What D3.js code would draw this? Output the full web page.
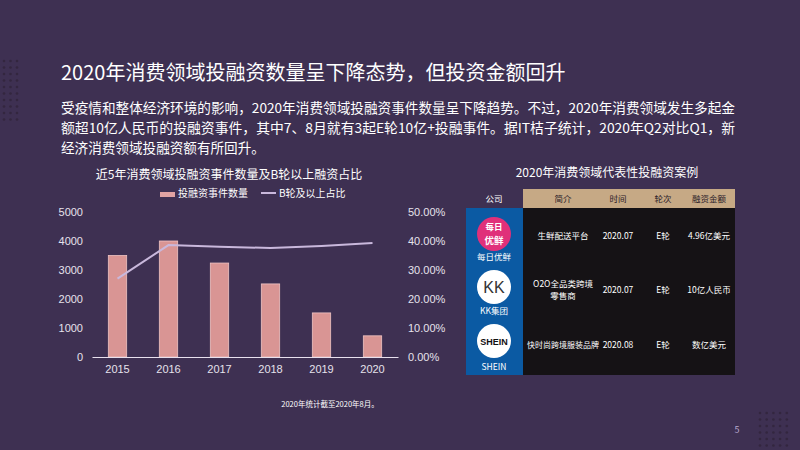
<!DOCTYPE html>
<html><head><meta charset="utf-8">
<script src="https://cdn.jsdelivr.net/npm/d3@7/dist/d3.min.js"></script>
<style>
html,body{margin:0;padding:0;background:#3e3052;}
svg{display:block;font-family:"Noto Sans CJK SC","Noto Sans",sans-serif;}
</style></head>
<body><svg id="c" width="800" height="450"></svg>
<script>
const years = ["2015","2016","2017","2018","2019","2020"];
const eventCounts = [3500, 4000, 3240, 2520, 1520, 730];
const bRoundShare = [0.27, 0.386, 0.38, 0.376, 0.383, 0.393];
const leftTicks = [0, 1000, 2000, 3000, 4000, 5000];
const rightTicks = [0, 0.1, 0.2, 0.3, 0.4, 0.5];
const tableHeader = ["简介", "时间", "轮次", "融资金额"];
const companies = ["每日优鲜", "KK集团", "SHEIN"];
const intros = [["生鲜配送平台"], ["O2O全品类跨境", "零售商"], ["快时尚跨境服装品牌"]];
const dates = ["2020.07", "2020.07", "2020.08"];
const rounds = ["E轮", "E轮", "E轮"];
const amounts = ["4.96亿美元", "10亿人民币", "数亿美元"];

const svg = d3.select("#c");
svg.append("rect").attr("width",800).attr("height",450).attr("fill","#3e3052");

// decorative dots
const dotsL = svg.append("g");
for (let r=0;r<10;r++) for (let c=0;c<3;c++)
  dotsL.append("circle").attr("cx",4+c*6.5).attr("cy",61+r*6.5).attr("r",1.3).attr("fill","#33263f");
for (let r=0;r<6;r++) for (let c=0;c<5;c++)
  dotsL.append("circle").attr("cx",760+c*6.7).attr("cy",413+r*6.5).attr("r",1.3).attr("fill","#33263f");

// title & paragraph
svg.append("text").attr("x",61).attr("y",80).attr("fill","#ffffff").attr("font-size",20)
  .text("2020年消费领域投融资数量呈下降态势，但投资金额回升");
const para = ["受疫情和整体经济环境的影响，2020年消费领域投融资事件数量呈下降趋势。不过，2020年消费领域发生多起金",
  "额超10亿人民币的投融资事件，其中7、8月就有3起E轮10亿+投融事件。据IT桔子统计，2020年Q2对比Q1，新",
  "经济消费领域投融资额有所回升。"];
para.forEach((t,i)=>svg.append("text").attr("x",61).attr("y",113+i*20).attr("fill","#ffffff")
  .attr("font-size",13.6).attr("textLength", i<2?674:null).attr("lengthAdjust","spacingAndGlyphs").text(t));

// chart
const x = d3.scaleBand().domain(years).range([92,398]).paddingInner(0.64).paddingOuter(0.32);
const yL = d3.scaleLinear().domain([0,5000]).range([357,212]);
const yR = d3.scaleLinear().domain([0,0.5]).range([357,212]);
const tickColor = "#e6e2ec";

svg.append("text").attr("x",229).attr("y",179).attr("text-anchor","middle").attr("fill","#ffffff")
  .attr("font-size",12).text("近5年消费领域投融资事件数量及B轮以上融资占比");
// legend
svg.append("rect").attr("x",160).attr("y",192).attr("width",15).attr("height",5).attr("fill","#e0a3a3");
svg.append("text").attr("x",178).attr("y",197).attr("fill","#ffffff").attr("font-size",10).text("投融资事件数量");
svg.append("line").attr("x1",261).attr("x2",276).attr("y1",193).attr("y2",193).attr("stroke","#c9b8dc").attr("stroke-width",2);
svg.append("text").attr("x",279).attr("y",197).attr("fill","#ffffff").attr("font-size",10).text("B轮及以上占比");

const axL = svg.append("g").attr("transform","translate(92,0)")
  .call(d3.axisLeft(yL).tickValues(leftTicks).tickSize(0).tickPadding(9).tickFormat(d3.format("d")));
axL.select(".domain").remove();
axL.selectAll("text").attr("fill",tickColor).attr("font-size",11).attr("font-family","Liberation Sans, Arial, sans-serif");
const axR = svg.append("g").attr("transform","translate(398,0)")
  .call(d3.axisRight(yR).tickValues(rightTicks).tickSize(0).tickPadding(10).tickFormat(d3.format(".2%")));
axR.select(".domain").remove();
axR.selectAll("text").attr("fill",tickColor).attr("font-size",11).attr("font-family","Liberation Sans, Arial, sans-serif");

svg.append("g").selectAll("rect").data(years).join("rect")
  .attr("x",d=>x(d)).attr("width",x.bandwidth())
  .attr("y",(d,i)=>yL(eventCounts[i])).attr("height",(d,i)=>yL(0)-yL(eventCounts[i]))
  .attr("fill","#d99594").attr("stroke","#efc4c3").attr("stroke-width",0.8);

const axB = svg.append("g").attr("transform","translate(0,357)")
  .call(d3.axisBottom(x).tickSize(0).tickPadding(8));
axB.select(".domain").attr("stroke","#e8e0ee").attr("stroke-width",1.2);
axB.selectAll("text").attr("fill",tickColor).attr("font-size",11).attr("font-family","Liberation Sans, Arial, sans-serif");

svg.append("path").datum(years).attr("fill","none").attr("stroke","#c9b8dc").attr("stroke-width",2)
  .attr("d",d3.line().x(d=>x(d)+x.bandwidth()/2).y((d,i)=>yR(bRoundShare[i])));

// table
const tg = svg.append("g");
tg.append("text").attr("x",607).attr("y",177).attr("text-anchor","middle").attr("fill","#ffffff")
  .attr("font-size",12).text("2020年消费领域代表性投融资案例");
tg.append("rect").attr("x",523).attr("y",189).attr("width",212).attr("height",19).attr("fill","#c6a985");
tg.append("rect").attr("x",523).attr("y",208).attr("width",212).attr("height",167).attr("fill","#151215");
tg.append("rect").attr("x",466).attr("y",208).attr("width",57).attr("height",167).attr("fill","#0b5aa3");
tg.append("text").attr("x",494).attr("y",202).attr("text-anchor","middle").attr("fill","#ffffff").attr("font-size",8.5).text("公司");
const colX = [563, 618, 663, 709];
tableHeader.forEach((t,i)=>tg.append("text").attr("x",colX[i]).attr("y",202).attr("text-anchor","middle")
  .attr("fill","#2a2028").attr("font-size",8.5).text(t));
const rowY = [239, 293, 348];
const cell = (t,cx,cy)=>tg.append("text").attr("x",cx).attr("y",cy).attr("text-anchor","middle")
  .attr("fill","#ffffff").attr("font-size",8.5).text(t);
companies.forEach((c,i)=>{
  const ly = intros[i];
  ly.forEach((t,j)=>{
    const el = cell(t,colX[0],rowY[i]-(ly.length-1)*6+j*12);
    if (t.length>8) el.attr("font-size",8);
  });
  cell(dates[i],colX[1],rowY[i]);
  cell(rounds[i],colX[2],rowY[i]);
  cell(amounts[i],colX[3],rowY[i]);
});
// logos
const logoY = [234, 287, 341];
const labelY = [260, 314, 370];
tg.append("circle").attr("cx",494).attr("cy",logoY[0]).attr("r",17).attr("fill","#e0307a");
tg.append("text").attr("x",494).attr("y",logoY[0]-4).attr("text-anchor","middle").attr("fill","#fff").attr("font-size",8.5).attr("font-weight","bold").text("每日");
tg.append("text").attr("x",494).attr("y",logoY[0]+10).attr("text-anchor","middle").attr("fill","#fff").attr("font-size",9.5).attr("font-weight","bold").text("优鲜");
tg.append("circle").attr("cx",494).attr("cy",logoY[1]).attr("r",17).attr("fill","#ffffff");
tg.append("text").attr("x",494).attr("y",logoY[1]+6).attr("text-anchor","middle").attr("fill","#333").attr("font-size",16).attr("font-family","Liberation Sans, sans-serif").text("KK");
tg.append("circle").attr("cx",494).attr("cy",logoY[2]).attr("r",17).attr("fill","#ffffff");
tg.append("text").attr("x",494).attr("y",logoY[2]+3.5).attr("text-anchor","middle").attr("fill","#111").attr("font-size",9).attr("font-weight","bold").attr("font-family","Liberation Sans, sans-serif").text("SHEIN");
companies.forEach((c,i)=>tg.append("text").attr("x",494).attr("y",labelY[i]).attr("text-anchor","middle")
  .attr("fill","#ffffff").attr("font-size",8.5).text(c));

// footnote & page number
svg.append("text").attr("x",330).attr("y",407).attr("text-anchor","middle").attr("fill","#ffffff").attr("font-size",7.5).text("2020年统计截至2020年8月。");
svg.append("text").attr("x",737).attr("y",433).attr("text-anchor","middle").attr("fill","#b9a8cf").attr("font-size",9).text("5");
</script></body></html>
